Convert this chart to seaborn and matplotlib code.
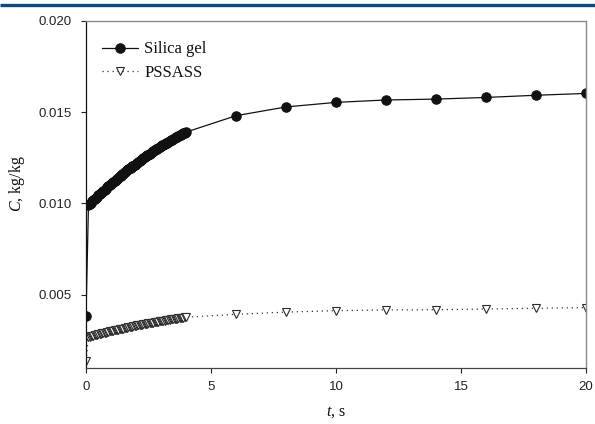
import matplotlib
matplotlib.use("Agg")
import matplotlib.pyplot as plt
from matplotlib.lines import Line2D
import pandas as pd
import seaborn as sns

# Sampling times (s): initial point, dense early sampling, then every 2 s
t_s = [0.0,
       0.10, 0.15, 0.20, 0.25, 0.30, 0.35, 0.40, 0.45, 0.50, 0.55,
       0.60, 0.65, 0.70, 0.75, 0.80, 0.85, 0.90, 0.95, 1.00, 1.05,
       1.10, 1.15, 1.20, 1.25, 1.30, 1.35, 1.40, 1.45, 1.50, 1.55,
       1.60, 1.65, 1.70, 1.75, 1.80, 1.85, 1.90, 1.95, 2.00, 2.05,
       2.10, 2.15, 2.20, 2.25, 2.30, 2.35, 2.40, 2.45, 2.50, 2.55,
       2.60, 2.65, 2.70, 2.75, 2.80, 2.85, 2.90, 2.95, 3.00, 3.05,
       3.10, 3.15, 3.20, 3.25, 3.30, 3.35, 3.40, 3.45, 3.50, 3.55,
       3.60, 3.65, 3.70, 3.75, 3.80, 3.85, 3.90, 3.95, 4.00,
       6.0, 8.0, 10.0, 12.0, 14.0, 16.0, 18.0, 20.0]

# Moisture uptake C (kg/kg)
silica_gel = [0.00380,
              0.00990, 0.00997, 0.01004, 0.01011, 0.01017, 0.01024, 0.01030, 0.01037, 0.01043, 0.01050,
              0.01056, 0.01062, 0.01068, 0.01075, 0.01081, 0.01087, 0.01093, 0.01099, 0.01105, 0.01111,
              0.01117, 0.01123, 0.01129, 0.01135, 0.01141, 0.01147, 0.01152, 0.01158, 0.01163, 0.01169,
              0.01175, 0.01181, 0.01186, 0.01191, 0.01196, 0.01202, 0.01207, 0.01212, 0.01217, 0.01223,
              0.01228, 0.01233, 0.01238, 0.01243, 0.01248, 0.01253, 0.01257, 0.01262, 0.01267, 0.01272,
              0.01276, 0.01281, 0.01285, 0.01290, 0.01295, 0.01299, 0.01303, 0.01308, 0.01312, 0.01317,
              0.01321, 0.01325, 0.01329, 0.01333, 0.01337, 0.01341, 0.01345, 0.01349, 0.01353, 0.01357,
              0.01361, 0.01365, 0.01368, 0.01372, 0.01376, 0.01380, 0.01383, 0.01387, 0.01390,
              0.01480, 0.01528, 0.01553, 0.01566, 0.01571, 0.01580, 0.01592, 0.01602]

pssass = [0.00135,
          0.00268, 0.00270, 0.00272, 0.00274, 0.00275, 0.00277, 0.00279, 0.00281, 0.00282, 0.00284,
          0.00286, 0.00288, 0.00289, 0.00291, 0.00292, 0.00294, 0.00296, 0.00298, 0.00299, 0.00301,
          0.00302, 0.00304, 0.00305, 0.00307, 0.00308, 0.00310, 0.00311, 0.00313, 0.00314, 0.00316,
          0.00317, 0.00319, 0.00320, 0.00322, 0.00323, 0.00325, 0.00326, 0.00328, 0.00329, 0.00331,
          0.00332, 0.00333, 0.00334, 0.00336, 0.00337, 0.00339, 0.00340, 0.00341, 0.00342, 0.00344,
          0.00345, 0.00346, 0.00347, 0.00349, 0.00350, 0.00351, 0.00352, 0.00354, 0.00355, 0.00356,
          0.00357, 0.00358, 0.00359, 0.00361, 0.00362, 0.00363, 0.00364, 0.00365, 0.00366, 0.00367,
          0.00368, 0.00369, 0.00370, 0.00371, 0.00372, 0.00373, 0.00374, 0.00375, 0.00376,
          0.00392, 0.00404, 0.00412, 0.00416, 0.00417, 0.00421, 0.00425, 0.00429]

x_ticks = [0, 5, 10, 15, 20]
y_ticks = [0.005, 0.010, 0.015, 0.020]

df = pd.DataFrame({"t": t_s, "Silica gel": silica_gel, "PSSASS": pssass})

sns.set_theme(style="ticks")
plt.rcParams["font.family"] = ["Liberation Sans", "DejaVu Sans"]
plt.rcParams["mathtext.fontset"] = "custom"
plt.rcParams["mathtext.it"] = "Liberation Serif:italic"
plt.rcParams["mathtext.rm"] = "Liberation Serif"

fig = plt.figure(figsize=(5.95, 4.24), dpi=100)
ax = fig.add_axes([0.1445, 0.133, 0.8405, 0.818])

sns.lineplot(data=df, x="t", y="Silica gel", ax=ax, estimator=None, sort=False,
             color="#111111", linewidth=0.9, marker="o", markersize=6.8,
             markeredgecolor="#111111", markerfacecolor="#111111",
             label="Silica gel")
sns.lineplot(data=df, x="t", y="PSSASS", ax=ax, estimator=None, sort=False,
             color="#333333", linewidth=0.9, linestyle=(0, (1, 3)), marker="v",
             markersize=6.0, markeredgecolor="#2a2a2a", markerfacecolor="white",
             markeredgewidth=0.8, label="PSSASS")

# Keep the densely packed markers at their exact positions (no pixel snapping)
for line in ax.get_lines():
    line.set_snap(False)

ax.set_xlim(0, 20)
ax.set_ylim(0.001, 0.020)
ax.set_xticks(x_ticks)
ax.set_yticks(y_ticks)
ax.set_xticklabels([str(v) for v in x_ticks])
ax.set_yticklabels([f"{v:.3f}" for v in y_ticks])
ax.tick_params(axis="both", direction="out", length=3.5, width=0.8,
               labelsize=9.5, colors="#222222")
ax.tick_params(axis="y", pad=7)
ax.tick_params(axis="x", pad=6.5)

for side in ("top", "right"):
    ax.spines[side].set_color("#8a8a8a")
    ax.spines[side].set_linewidth(1.0)
ax.spines["left"].set_color("#111111")
ax.spines["bottom"].set_color("#444444")
ax.spines["left"].set_linewidth(0.9)
ax.spines["bottom"].set_linewidth(0.9)

serif = ["Liberation Serif", "DejaVu Serif"]
ax.set_xlabel(r"$t$, s", family=serif, fontsize=11.5, color="#111111")
ax.set_ylabel(r"$C$, kg/kg", family=serif, fontsize=11.5, color="#111111")
ax.xaxis.set_label_coords(0.5, -0.106)
ax.yaxis.set_label_coords(-0.117, 0.53)

leg = ax.legend(loc="upper left", bbox_to_anchor=(0.008, 0.974), frameon=False,
                prop={"family": serif, "size": 12}, handlelength=2.2,
                handletextpad=0.35, labelspacing=0.45, borderaxespad=0.3)
for txt in leg.get_texts():
    txt.set_color("#111111")

# Header rule across the top of the page
fig.add_artist(Line2D([0, 1], [1 - 4.6 / 424, 1 - 4.6 / 424], transform=fig.transFigure,
                      color="#0b4a7e", linewidth=2.4, solid_capstyle="butt"))

fig.savefig("out.png", dpi=100)
